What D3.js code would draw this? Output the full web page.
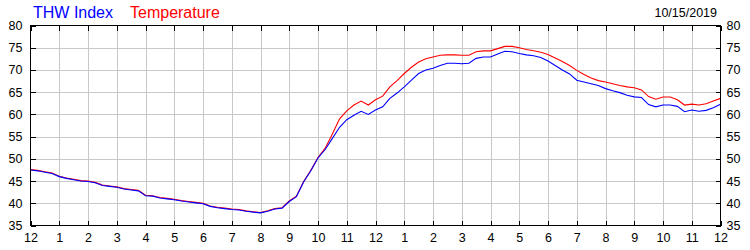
<!DOCTYPE html>
<html>
<head>
<meta charset="utf-8">
<script src="https://cdn.jsdelivr.net/npm/d3@7"></script>
<style>
  html, body { margin: 0; padding: 0; background: #fff; }
  svg { display: block; }
  text { font-family: "Liberation Sans", Arial, sans-serif; }
</style>
</head>
<body>
<svg id="chart" width="750" height="250"></svg>
<script>
// ---- data (hours after midnight, 15-minute readings) ----
const hours = d3.range(0, 24.001, 0.25);
const thwIndex = [
  47.5, 47.3, 47.0, 46.7, 46.0, 45.6, 45.3, 45.0, 44.9, 44.6, 44.0, 43.8,
  43.6, 43.2, 43.0, 42.8, 41.7, 41.6, 41.2, 41.0, 40.8, 40.5, 40.3, 40.1,
  39.9, 39.3, 39.0, 38.8, 38.6, 38.5, 38.2, 38.0, 37.85, 38.2, 38.7, 38.9,
  40.4, 41.5, 44.8, 47.3, 50.2, 52.1, 54.6, 57.1, 58.8, 59.8, 60.7, 60.0,
  61.0, 61.7, 63.6, 64.8, 66.2, 67.7, 69.2, 70.0, 70.4, 71.0, 71.5, 71.5,
  71.4, 71.5, 72.6, 72.9, 72.9, 73.6, 74.2, 74.1, 73.7, 73.4, 73.2, 72.8,
  72.0, 71.0, 70.0, 69.1, 67.7, 67.3, 66.9, 66.5, 65.8, 65.3, 64.9, 64.3,
  63.95, 63.8, 62.2, 61.7, 62.1, 62.1, 61.8, 60.6, 61.0, 60.7, 60.9, 61.5,
  62.3
];
const temperature = [
  47.6, 47.4, 47.1, 46.8, 46.1, 45.7, 45.4, 45.1, 45.0, 44.7, 44.1, 43.9,
  43.7, 43.3, 43.1, 42.9, 41.8, 41.7, 41.3, 41.1, 40.9, 40.6, 40.4, 40.2,
  40.0, 39.4, 39.1, 38.9, 38.7, 38.6, 38.3, 38.1, 37.9, 38.3, 38.8, 39.0,
  40.5, 41.6, 44.9, 47.4, 50.3, 52.4, 55.6, 59.0, 60.8, 62.1, 63.0, 62.1,
  63.3, 64.1, 66.2, 67.6, 69.2, 70.6, 71.8, 72.5, 72.9, 73.3, 73.4, 73.4,
  73.3, 73.3, 74.1, 74.3, 74.3, 74.8, 75.3, 75.3, 75.0, 74.6, 74.3, 74.0,
  73.5, 72.7, 71.9, 71.0, 69.9, 69.0, 68.2, 67.6, 67.3, 66.9, 66.5, 66.2,
  66.0, 65.5, 64.0, 63.4, 63.9, 63.9, 63.3, 62.1, 62.3, 62.1, 62.4, 63.0,
  63.6
];
const hourTicks = d3.range(0, 25, 1);
const valueTicks = [35, 40, 45, 50, 55, 60, 65, 70, 75, 80];
const legendLabels = ["THW Index", "Temperature"];
const dateLabel = "10/15/2019";

// ---- layout ----
const svg = d3.select("#chart");
const pL = 30.5, pR = 720.5, pT = 25.5, pB = 225.5;
const x = d3.scaleLinear().domain([0, 24]).range([pL, pR]);
const y = d3.scaleLinear().domain([35, 80]).range([pB, pT]);

// grid
const grid = svg.append("g").attr("stroke", "#c8c8c8").attr("stroke-width", 1).attr("shape-rendering", "crispEdges");
grid.selectAll("line.v").data(hourTicks.slice(1, -1)).join("line")
  .attr("class", "v")
  .attr("x1", d => Math.round(x(d)) + 0.5).attr("x2", d => Math.round(x(d)) + 0.5)
  .attr("y1", pT).attr("y2", pB);
grid.selectAll("line.h").data(valueTicks.slice(1, -1)).join("line")
  .attr("class", "h")
  .attr("y1", d => Math.round(y(d)) + 0.5).attr("y2", d => Math.round(y(d)) + 0.5)
  .attr("x1", pL).attr("x2", pR);

// series
const line = d3.line().x((d, i) => x(hours[i])).y(d => y(d));
svg.append("path").datum(temperature).attr("d", line)
  .attr("fill", "none").attr("stroke", "#ff0000").attr("stroke-width", 1.1);
svg.append("path").datum(thwIndex).attr("d", line)
  .attr("fill", "none").attr("stroke", "#0000ff").attr("stroke-width", 1.1);

// axes
const hourFmt = h => String((h % 12) || 12);
function styleAxis(g) {
  g.select(".domain").remove();
  g.selectAll(".tick line").attr("stroke", "#000").attr("shape-rendering", "crispEdges");
  g.selectAll(".tick text").attr("fill", "#000").style("font-size", "12.5px")
    .style("font-family", '"Liberation Sans", Arial, sans-serif');
}
svg.append("g").attr("transform", `translate(0,${pB})`)
  .call(d3.axisBottom(x).tickValues(hourTicks).tickFormat(hourFmt).tickSizeInner(-5).tickSizeOuter(0).tickPadding(8))
  .call(styleAxis);
svg.append("g").attr("transform", `translate(0,${pT})`)
  .call(d3.axisTop(x).tickValues(hourTicks).tickFormat("").tickSizeInner(-5).tickSizeOuter(0))
  .call(styleAxis);
svg.append("g").attr("transform", `translate(${pL},0)`)
  .call(d3.axisLeft(y).tickValues(valueTicks).tickSizeInner(-5).tickSizeOuter(0).tickPadding(8))
  .call(styleAxis);
svg.append("g").attr("transform", `translate(${pR},0)`)
  .call(d3.axisRight(y).tickValues(valueTicks).tickSizeInner(-5).tickSizeOuter(0).tickPadding(6))
  .call(styleAxis);

// frame
svg.append("rect").attr("x", pL).attr("y", pT).attr("width", pR - pL).attr("height", pB - pT)
  .attr("fill", "none").attr("stroke", "#000").attr("shape-rendering", "crispEdges");

// legend & date
svg.append("text").attr("x", 33).attr("y", 18).attr("fill", "#0000ff").style("font-size", "16px").text(legendLabels[0]);
svg.append("text").attr("x", 130).attr("y", 18).attr("fill", "#ff0000").style("font-size", "16px").text(legendLabels[1]);
svg.append("text").attr("x", 717).attr("y", 17).attr("text-anchor", "end").attr("fill", "#000").style("font-size", "12.5px").text(dateLabel);
</script>
</body>
</html>
